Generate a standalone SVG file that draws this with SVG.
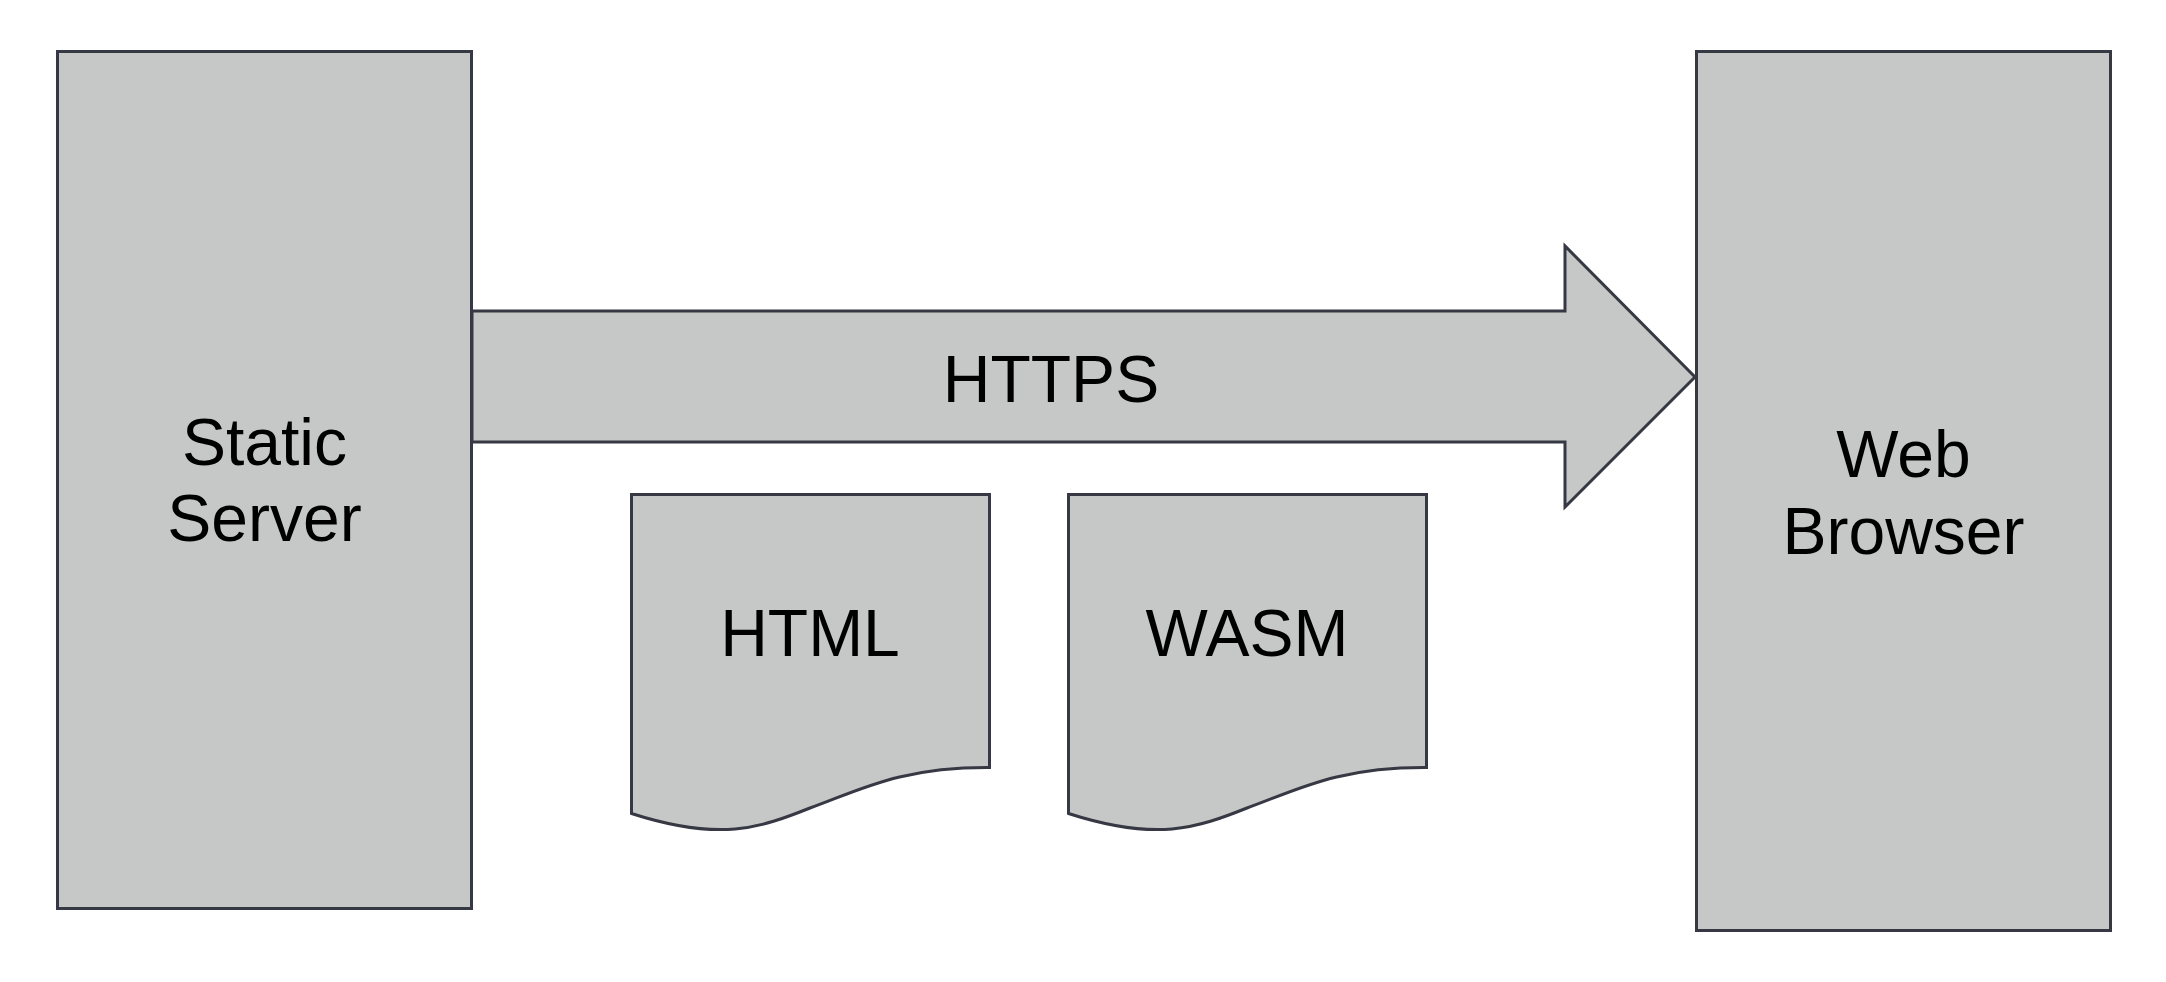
<svg xmlns="http://www.w3.org/2000/svg" width="2166" height="982" viewBox="0 0 2166 982">
<style>
.shape{fill:#c6c8c7;stroke:#363843;stroke-width:3;stroke-linejoin:miter}
.lbl{font-family:"Liberation Sans",Arial,sans-serif;font-size:66px;fill:#000;text-anchor:middle}
</style>
<rect width="2166" height="982" fill="#ffffff"/>
<g id="connectors">
<g id="https-arrow">
<path class="shape" d="M472,311 H1565 V246 L1695,377 L1565,507 V442 H472 Z"/>
<text class="lbl" x="1051" y="402">HTTPS</text>
</g>
</g>
<g id="static-server">
<rect class="shape" x="57.5" y="51.5" width="414" height="857"/>
<text class="lbl" x="264.5" y="465">Static</text>
<text class="lbl" x="264.5" y="541">Server</text>
</g>
<g id="web-browser">
<rect class="shape" x="1696.5" y="51.5" width="414" height="879"/>
<text class="lbl" x="1903.5" y="477">Web</text>
<text class="lbl" x="1903.5" y="554">Browser</text>
</g>
<g id="html-doc">
<path class="shape" d="M631.5,494.5 H989.5 V767.5 C900,767 860,790 810,808 C760,828 720,842 631.5,813.5 Z"/>
<text class="lbl" x="810" y="656">HTML</text>
</g>
<g id="wasm-doc">
<path class="shape" d="M1068.5,494.5 H1426.5 V767.5 C1337,767 1297,790 1247,808 C1197,828 1157,842 1068.5,813.5 Z"/>
<text class="lbl" x="1247" y="656">WASM</text>
</g>
</svg>
